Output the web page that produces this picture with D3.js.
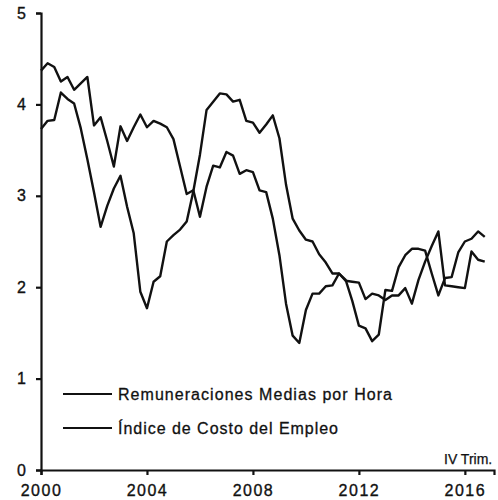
<!DOCTYPE html>
<html>
<head>
<meta charset="utf-8">
<script src="https://cdn.jsdelivr.net/npm/d3@7"></script>
<style>
  body { margin: 0; background: #fff; }
  svg { display: block; }
  text { font-family: "Liberation Sans", Arial, sans-serif; fill: #111; }
</style>
</head>
<body>
<div id="chart-area"></div>
<script>
// Datos trimestrales, I Trim 2000 a IV Trim 2016
const anios = d3.range(2000, 2017);
const trimestres = [];
anios.forEach(a => [0, 1, 2, 3].forEach(q => trimestres.push(a + q / 4)));

const indiceCosto = [
    4.37, 4.45, 4.41, 4.25, 4.30, 4.16, 4.23, 4.30,
    3.77, 3.86, 3.60, 3.32, 3.76, 3.60, 3.75, 3.89,
    3.75, 3.82, 3.79, 3.75, 3.62, 3.32, 3.02, 3.06,
    2.77, 3.10, 3.33, 3.31, 3.48, 3.44, 3.24, 3.28,
    3.26, 3.06, 3.04, 2.75, 2.35, 1.82, 1.47, 1.39,
    1.75, 1.93, 1.93, 2.01, 2.02, 2.15, 2.07, 2.06,
    2.05, 1.87, 1.93, 1.91, 1.86, 1.91, 1.91, 1.99,
    1.82, 2.08, 2.28, 2.45, 2.61, 2.02, 2.01, 2.00,
    1.99, 2.39, 2.30, 2.28
];

const remuneraciones = [
    3.73, 3.82, 3.83, 4.13, 4.06, 4.01, 3.74, 3.40,
    3.04, 2.66, 2.89, 3.08, 3.22, 2.88, 2.59, 1.95,
    1.77, 2.06, 2.12, 2.50, 2.57, 2.63, 2.72, 3.05,
    3.45, 3.94, 4.03, 4.12, 4.11, 4.03, 4.05, 3.82,
    3.80, 3.69, 3.78, 3.88, 3.63, 3.12, 2.75, 2.62,
    2.52, 2.50, 2.36, 2.27, 2.15, 2.15, 2.08, 1.85,
    1.58, 1.55, 1.41, 1.48, 1.97, 1.96, 2.22, 2.35,
    2.42, 2.42, 2.40, 2.15, 1.91, 2.10, 2.11, 2.38,
    2.50, 2.53, 2.61, 2.55
];

const series = [
    { nombre: "Remuneraciones Medias por Hora", valores: remuneraciones },
    { nombre: "Índice de Costo del Empleo", valores: indiceCosto }
];

const ticksX = [2000, 2004, 2008, 2012, 2016];
const ticksY = [0, 1, 2, 3, 4, 5];

const svg = d3.select("#chart-area")
    .append("svg")
    .attr("width", 498)
    .attr("height", 500);

// Escalas
const x = d3.scaleLinear().domain([2000, 2017.1]).range([41, 494]);
const y = d3.scaleLinear().domain([0, 5]).range([470, 13]);

// Ejes
const ejeX = svg.append("g")
    .attr("transform", "translate(0,470)")
    .call(d3.axisBottom(x).tickValues(ticksX).tickFormat(d3.format("d"))
        .tickSize(5).tickSizeOuter(5).tickPadding(10));

const ejeY = svg.append("g")
    .attr("transform", "translate(41,0)")
    .call(d3.axisLeft(y).tickValues(ticksY).tickFormat(d3.format("d"))
        .tickSize(5).tickSizeOuter(5).tickPadding(10));

[ejeX, ejeY].forEach(g => {
    g.selectAll("path, line").attr("stroke", "#111").attr("stroke-width", 2.2);
    g.selectAll("text").attr("font-size", 16).attr("fill", "#111")
        .attr("stroke", "#111").attr("stroke-width", 0.35)
        .style("font-family", "'Liberation Sans', Arial, sans-serif");
});
ejeX.selectAll("text").attr("letter-spacing", 1.5);

// Lineas
const linea = d3.line()
    .x((d, i) => x(trimestres[i]))
    .y(d => y(d));

svg.selectAll("path.serie")
    .data(series)
    .enter()
    .append("path")
    .attr("class", "serie")
    .attr("d", d => linea(d.valores))
    .attr("fill", "none")
    .attr("stroke", "#111")
    .attr("stroke-width", 2.4)
    .attr("stroke-linejoin", "round");

// Leyenda
const leyenda = svg.selectAll("g.leyenda")
    .data(series)
    .enter()
    .append("g")
    .attr("class", "leyenda")
    .attr("transform", (d, i) => `translate(63,${394 + i * 34})`);

leyenda.append("line")
    .attr("x1", 0).attr("x2", 49)
    .attr("stroke", "#111").attr("stroke-width", 2.2);

leyenda.append("text")
    .attr("x", 55)
    .attr("y", 6)
    .attr("font-size", 16)
    .attr("stroke", "#111")
    .attr("stroke-width", 0.3)
    .attr("textLength", (d, i) => i === 0 ? 274 : 220)
    .attr("lengthAdjust", "spacing")
    .text(d => d.nombre);

svg.append("text")
    .attr("x", 444)
    .attr("y", 464)
    .attr("font-size", 14)
    .attr("stroke", "#111")
    .attr("stroke-width", 0.25)
    .text("IV Trim.");
</script>
</body>
</html>
